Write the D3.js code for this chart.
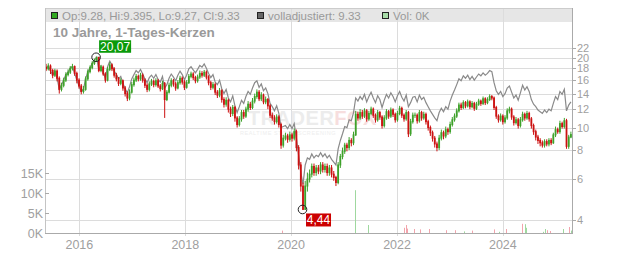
<!DOCTYPE html>
<html><head><meta charset="utf-8">
<script src="https://cdn.jsdelivr.net/npm/d3@7/dist/d3.min.js"></script>
<style>
body{margin:0;background:#fff}
svg{display:block;font-family:"Liberation Sans",Arial,sans-serif}
</style>
</head><body>
<svg id="chart" width="632" height="253"></svg>
<script>
// ---------- DATA (half-monthly candles, May 2015 – Apr 2025) ----------
const firstOpen = 18.2;
const closeVals = [
 17.9,18.4,17.6,16.8,17.5,16.3,14.6,15.2,16.0,16.9,17.3,18.0,18.3,17.1,16.0,15.1,14.3,14.6,16.2,17.4,18.1,18.9,19.5,20.07,
 17.6,18.2,17.0,16.0,17.8,18.6,17.9,16.8,16.2,15.5,15.9,14.8,14.0,13.4,14.2,15.3,16.0,16.6,16.2,16.8,16.0,15.2,14.6,15.4,
 15.8,15.3,15.9,15.1,14.7,15.5,13.2,14.2,15.2,15.9,15.4,14.8,15.6,16.3,15.7,14.9,15.6,16.6,17.0,16.4,15.9,16.5,17.1,16.8,
 17.3,16.5,15.6,14.9,15.3,14.2,13.8,14.4,13.2,12.6,13.1,12.0,11.5,12.2,11.0,10.3,10.9,11.6,11.2,12.0,12.6,12.2,13.0,13.6,
 14.2,13.3,13.8,12.9,13.2,12.4,11.3,11.0,10.6,11.1,10.3,8.4,9.0,9.2,8.9,9.3,9.0,9.6,8.2,6.9,5.6,4.44,5.6,6.0,
 6.3,6.8,6.4,6.7,6.5,6.9,6.6,6.8,6.4,6.7,6.3,6.1,5.8,6.9,7.5,7.9,8.4,8.2,8.8,8.6,9.3,11.4,11.0,11.6,
 11.2,11.8,10.9,11.5,12.0,11.3,10.8,11.6,11.1,10.2,11.0,11.7,11.2,11.9,11.4,10.8,11.5,12.1,11.3,10.9,11.6,9.4,10.6,11.3,
 11.3,10.7,11.6,11.0,11.4,10.6,10.0,9.5,9.0,8.5,8.2,9.0,9.5,9.2,9.8,9.6,10.3,10.8,11.2,11.8,12.5,12.2,12.8,12.4,
 12.9,12.3,12.7,12.1,12.6,13.0,12.7,13.3,12.8,13.2,13.6,13.4,12.2,11.2,10.8,11.2,10.6,11.0,11.8,12.0,11.1,10.5,10.8,10.2,
 10.8,11.4,11.0,11.5,10.9,10.2,9.6,9.1,8.8,8.6,8.4,8.7,8.5,8.8,8.6,9.3,9.8,9.6,10.4,10.1,10.7,8.3,9.1,9.33
];
const highVals = [
 18.8,18.9,18.7,17.9,17.9,17.8,16.6,15.6,16.4,17.3,17.8,18.4,18.8,18.5,17.4,16.3,15.4,15.1,16.6,17.8,18.5,19.3,19.8,20.07,
 20.07,18.6,18.5,17.3,18.2,19.1,18.9,18.2,17.2,16.5,16.3,16.1,15.1,14.3,14.6,15.7,16.4,17.0,16.9,17.2,17.1,16.3,15.5,15.8,
 16.2,16.1,16.3,16.2,15.4,15.9,15.7,14.5,15.6,16.3,16.2,15.7,16.0,16.7,16.6,16.0,16.0,17.0,17.4,17.3,16.7,16.9,17.6,17.5,
 17.7,17.6,16.8,15.9,15.7,15.6,14.5,14.8,14.6,13.5,13.5,13.3,12.3,12.5,12.4,11.2,11.2,11.9,11.9,12.3,13.0,12.9,13.4,14.0,
 14.6,14.5,14.2,14.0,13.6,13.4,12.6,11.6,11.3,11.4,11.3,10.5,9.3,9.5,9.4,9.6,9.5,9.9,9.8,8.4,7.1,5.8,5.9,6.4,
 6.6,7.0,7.0,6.9,6.9,7.1,7.1,7.0,7.0,6.9,6.9,6.5,6.2,7.1,7.7,8.2,8.6,8.6,9.1,9.0,9.6,11.8,11.7,12.0,
 11.9,12.1,12.0,11.8,12.3,12.2,11.5,11.9,11.8,11.3,11.3,12.0,11.9,12.2,12.1,11.6,11.8,12.4,12.3,11.5,11.9,11.8,10.9,11.6,
 11.6,11.5,11.9,11.8,11.7,11.6,10.8,10.2,9.7,9.2,8.7,9.3,9.8,9.7,10.1,10.0,10.6,11.1,11.5,12.1,12.8,12.8,13.1,13.0,
 13.2,13.1,13.0,12.9,12.9,13.3,13.2,13.6,13.5,13.5,13.9,13.8,13.6,12.4,11.4,11.5,11.4,11.3,12.1,12.3,12.2,11.3,11.1,11.0,
 11.1,11.7,11.6,11.8,11.7,11.1,10.4,9.8,9.3,9.0,8.8,8.9,8.9,9.0,9.0,9.5,10.1,10.0,10.7,10.6,11.0,10.9,9.3,9.6
];
const lowVals = [
 17.5,17.6,17.0,16.3,16.5,15.8,14.0,14.3,14.9,15.7,16.6,17.0,17.6,16.7,15.5,14.7,13.9,14.0,14.4,15.9,17.1,17.8,18.6,19.2,
 17.3,17.3,16.7,15.6,15.8,17.5,17.5,16.4,15.8,15.1,15.2,14.4,13.6,13.0,13.1,14.0,15.0,15.7,15.8,15.9,15.6,14.8,14.2,14.3,
 15.1,14.9,15.0,14.8,14.3,14.5,11.0,13.0,14.0,14.9,15.0,14.4,14.6,15.3,15.3,14.5,14.7,15.4,16.3,16.0,15.5,15.6,16.2,16.4,
 16.5,16.1,15.2,14.5,14.6,13.8,13.4,13.5,12.8,12.2,12.3,11.6,11.1,11.2,10.6,10.0,10.1,10.6,10.9,11.0,11.7,11.9,12.0,12.7,
 13.3,13.0,13.0,12.6,12.6,12.0,11.0,10.7,10.3,10.4,10.0,8.1,8.2,8.8,8.6,8.7,8.7,8.8,7.9,6.6,5.3,4.44,4.44,5.3,
 5.8,6.1,6.2,6.2,6.3,6.3,6.4,6.4,6.2,6.2,6.1,5.9,5.6,5.7,6.7,7.3,7.7,7.9,8.0,8.3,8.4,9.2,10.7,10.8,
 10.9,11.0,10.6,10.7,11.3,11.0,10.5,10.6,10.8,9.9,10.0,10.8,10.9,11.0,11.1,10.5,10.6,11.3,11.0,10.6,10.7,9.1,9.2,10.4,
 11.0,10.4,10.5,10.7,10.8,10.3,9.7,9.2,8.7,8.2,7.9,8.0,8.8,8.9,9.0,9.3,9.4,10.1,10.6,11.0,11.6,11.9,12.0,12.1,
 12.2,12.0,12.1,11.8,11.9,12.4,12.4,12.5,12.5,12.6,13.0,13.1,11.9,10.9,10.5,10.6,10.3,10.4,10.8,11.5,10.8,10.2,10.3,9.9,
 10.0,10.6,10.7,10.8,10.6,9.9,9.3,8.8,8.5,8.3,8.2,8.2,8.3,8.3,8.4,8.5,9.1,9.4,9.4,9.9,9.9,8.1,8.1,9.0
];
const adjVals = [
 17.9,18.4,17.6,16.8,17.5,16.3,14.6,15.2,16.0,16.9,17.3,18.0,18.3,17.1,16.0,15.1,14.3,14.6,16.2,17.4,18.1,18.9,19.5,20.07,
 17.7,18.4,17.3,16.3,18.3,19.3,18.6,17.5,16.9,16.2,16.6,15.5,14.7,14.1,15.0,16.2,16.9,17.6,17.2,17.8,17.0,16.2,15.6,16.4,
 16.8,16.3,16.9,16.1,15.7,16.6,14.8,15.3,16.3,17.0,16.5,15.9,16.8,17.5,16.9,16.1,16.8,17.9,18.3,17.7,17.2,17.8,18.5,18.2,
 18.8,18.0,17.1,16.4,16.9,15.7,15.3,16.0,14.7,14.0,14.6,13.4,12.9,13.7,12.4,11.6,12.3,13.1,12.7,13.6,14.3,13.9,14.8,15.6,
 15.9,14.9,15.4,14.4,14.8,14.0,12.7,12.3,11.8,12.4,11.5,10.0,10.1,10.2,9.9,10.3,9.9,10.4,9.0,7.6,6.4,5.7,6.9,7.4,
 7.3,7.7,7.4,7.6,7.5,7.8,7.5,7.7,7.4,7.6,7.3,7.1,6.9,8.1,8.8,9.4,10.1,10.0,10.8,10.7,11.6,13.4,13.0,13.6,
 13.2,13.9,12.9,13.6,14.2,13.4,12.8,13.7,13.2,12.2,13.1,13.9,13.4,14.1,13.6,12.9,13.7,14.3,13.5,13.0,13.8,12.3,12.8,13.5,
 13.6,12.9,13.8,13.2,13.5,12.8,12.3,11.8,11.4,11.0,10.7,11.6,12.1,11.7,12.3,12.0,13.0,13.8,14.5,15.3,16.2,15.9,16.7,16.3,
 16.8,16.1,16.6,16.0,16.5,17.0,16.7,17.2,16.8,17.1,17.6,17.4,15.6,14.4,13.9,14.3,13.6,14.0,14.8,15.1,14.2,13.4,13.8,13.1,
 14.1,15.2,14.5,15.0,14.3,13.2,12.6,12.3,11.9,11.7,11.5,11.9,11.6,12.0,11.8,12.7,13.6,13.2,14.3,13.9,14.6,11.8,12.5,12.9
];
const volDates = ["2019-10-30","2021-03-20","2021-06-13","2022-02-20","2022-03-03","2022-03-10","2022-05-01","2022-06-10",
 "2022-08-11","2022-12-06","2023-02-06","2023-04-09","2023-06-03","2023-11-03","2023-12-06","2024-01-26","2024-05-15",
 "2024-05-30","2024-06-10","2024-10-01","2024-10-19","2024-11-03","2024-11-18","2025-02-17","2025-03-29","2025-04-16"];
const volValues = [0.6,10.7,2.0,1.3,2.0,1.1,1.0,0.9,1.0,0.7,0.7,0.4,0.6,0.9,0.3,1.0,2.3,2.2,1.3,0.3,1.0,0.7,0.5,1.0,1.5,0.6]; // thousands
const volUp = [0,1,1,0,0,0,0,0,0,0,0,1,0,0,1,0,0,1,1,1,1,0,0,1,0,1];
const priceTicks = [4,6,8,10,12,14,16,18,20,22];
const volTicks = [0,5,10,15];
const yearTicks = [2016,2018,2020,2022,2024];
const startDate = new Date(2015,4,9), endDate = new Date(2025,3,22);
const titleText = "10 Jahre, 1-Tages-Kerzen";
const legendTexts = ["Op:9.28, Hi:9.395, Lo:9.27, Cl:9.33","volladjustiert: 9.33","Vol: 0K"];
const maxText = "20,07", minText = "4,44";

// ---------- CHART ----------
const svg = d3.select("#chart");
const L = 45, R = 572, T = 8, B = 233;
const GREEN = "#3ea12a", RED = "#cc1111", GRID = "#dcdcdc", AX = "#aaaaaa", TXT = "#a0a0a0";

const n = closeVals.length;
const periodDates = d3.range(n + 1).map(i => new Date(startDate.getTime() + i * (endDate - startDate) / n));
const x = d3.scaleTime().domain([startDate, endDate]).range([L, R]);
const y = d3.scaleLog().domain([4, 22]).range([220, 48]);
const yv = d3.scaleLinear().domain([0, 15]).range([B, 173]);

// legend bar
svg.append("rect").attr("x", L).attr("y", T).attr("width", R - L).attr("height", 14).attr("fill", "#e6e6e6");

// grid
svg.append("g").selectAll("line").data(priceTicks).join("line")
  .attr("x1", L).attr("x2", R).attr("y1", d => Math.round(y(d)) + 0.5).attr("y2", d => Math.round(y(d)) + 0.5)
  .attr("stroke", GRID);
svg.append("g").selectAll("line").data(yearTicks).join("line")
  .attr("x1", d => Math.round(x(new Date(d, 0, 1))) + 0.5).attr("x2", d => Math.round(x(new Date(d, 0, 1))) + 0.5)
  .attr("y1", T).attr("y2", B + 3).attr("stroke", GRID);

// watermark
const wm = svg.append("text").attr("x", 248).attr("y", 125).attr("font-size", 20).attr("font-weight", "bold")
  .attr("letter-spacing", 0.5);
wm.append("tspan").attr("fill", "#ececec").text("TRADER");
wm.append("tspan").attr("fill", "#f7dede").text("FOX");
svg.append("text").attr("x", 240).attr("y", 135).attr("font-size", 5.5).attr("fill", "#eeeeee")
  .attr("letter-spacing", 0.6).text("REALTIME STOCK SCREENING");

// volume
svg.append("g").selectAll("rect").data(volValues).join("rect")
  .attr("x", (d, i) => Math.round(x(new Date(volDates[i])))).attr("width", 1)
  .attr("y", d => yv(d)).attr("height", d => B - yv(d))
  .attr("fill", (d, i) => volUp[i] ? "#9fd89f" : "#f2a4ac");

// adjusted line
const cx = i => (x(periodDates[i]) + x(periodDates[i + 1])) / 2;
svg.append("path").datum(adjVals)
  .attr("d", d3.line().x((d, i) => cx(i)).y(d => y(d)))
  .attr("fill", "none").attr("stroke", "#8a8a8a").attr("stroke-width", 1.2);

// candles (open = previous close)
const opens = closeVals.map((c, i) => i === 0 ? firstOpen : closeVals[i - 1]);
const col = i => closeVals[i] >= opens[i] ? GREEN : RED;
const cg = svg.append("g");
cg.selectAll("line").data(closeVals).join("line")
  .attr("x1", (d, i) => cx(i)).attr("x2", (d, i) => cx(i))
  .attr("y1", (d, i) => y(highVals[i])).attr("y2", (d, i) => y(lowVals[i]))
  .attr("stroke", (d, i) => col(i)).attr("stroke-width", 1);
cg.selectAll("rect").data(closeVals).join("rect")
  .attr("x", (d, i) => x(periodDates[i]) + 0.2)
  .attr("width", (d, i) => x(periodDates[i + 1]) - x(periodDates[i]) - 0.4)
  .attr("y", (d, i) => Math.min(y(d), y(opens[i])) - 0.5)
  .attr("height", (d, i) => Math.abs(y(d) - y(opens[i])) + 1)
  .attr("fill", (d, i) => col(i));

// extremes
const iMax = d3.maxIndex(highVals), iMin = d3.minIndex(lowVals);
const mx = cx(iMax) - 0.5, my = y(highVals[iMax]);
svg.append("circle").attr("cx", mx).attr("cy", my).attr("r", 4.3).attr("fill", "none").attr("stroke", "#222").attr("stroke-width", 1);
svg.append("rect").attr("x", mx + 3).attr("y", my - 17).attr("width", 32).attr("height", 12.5).attr("fill", "#0a9a0a");
svg.append("text").attr("x", mx + 19).attr("y", my - 6.5).attr("text-anchor", "middle").attr("font-size", 12).attr("fill", "#fff").text(maxText);
const nx = cx(iMin) - 0.5, ny = y(lowVals[iMin]);
svg.append("circle").attr("cx", nx).attr("cy", ny).attr("r", 4.3).attr("fill", "none").attr("stroke", "#222").attr("stroke-width", 1);
svg.append("rect").attr("x", nx + 3.5).attr("y", ny + 4).attr("width", 25).attr("height", 13).attr("fill", "#cc0000");
svg.append("text").attr("x", nx + 16).attr("y", ny + 14.5).attr("text-anchor", "middle").attr("font-size", 12).attr("fill", "#fff").text(minText);

// frame / axes
svg.append("line").attr("x1", L).attr("x2", R + 1).attr("y1", T + 0.5).attr("y2", T + 0.5).attr("stroke", "#cccccc");
svg.append("line").attr("x1", L + 0.5).attr("x2", L + 0.5).attr("y1", T).attr("y2", B).attr("stroke", "#c4c4c4");
svg.append("line").attr("x1", R + 0.5).attr("x2", R + 0.5).attr("y1", T).attr("y2", B).attr("stroke", AX);
svg.append("line").attr("x1", L).attr("x2", R + 1).attr("y1", B + 0.5).attr("y2", B + 0.5).attr("stroke", AX);

// right axis
const ra = svg.append("g");
ra.selectAll("line").data(priceTicks).join("line")
  .attr("x1", R).attr("x2", R + 4).attr("y1", d => Math.round(y(d)) + 0.5).attr("y2", d => Math.round(y(d)) + 0.5).attr("stroke", AX);
ra.selectAll("text").data(priceTicks).join("text")
  .attr("x", R + 5).attr("y", d => y(d) + 4).attr("font-size", 11).attr("fill", TXT).text(d => d);

// left volume axis
const la = svg.append("g");
la.selectAll("line").data(volTicks).join("line")
  .attr("x1", L).attr("x2", L + 4).attr("y1", d => Math.round(yv(d)) + 0.5).attr("y2", d => Math.round(yv(d)) + 0.5).attr("stroke", AX);
la.selectAll("text").data(volTicks).join("text")
  .attr("x", L - 2).attr("y", d => yv(d) + 4.5).attr("text-anchor", "end").attr("font-size", 12.5).attr("fill", TXT).text(d => d + "K");

// bottom axis labels
svg.append("g").selectAll("text").data(yearTicks).join("text")
  .attr("x", d => x(new Date(d, 0, 1))).attr("y", 249).attr("text-anchor", "middle")
  .attr("font-size", 12.5).attr("fill", TXT).text(d => d);

// legend
const legColors = ["#33aa22", "#666666", "#a8dca8"];
const legX = [51, 257, 382];
legendTexts.forEach((t, i) => {
  svg.append("rect").attr("x", legX[i] + 0.5).attr("y", 12.5).attr("width", 6).attr("height", 6)
    .attr("fill", legColors[i]).attr("stroke", "#222").attr("stroke-width", 1);
  svg.append("text").attr("x", legX[i] + 11).attr("y", 19.5).attr("font-size", 11.5).attr("fill", "#999").text(t);
});

// title
svg.append("text").attr("x", 53).attr("y", 37).attr("font-size", 13.5).attr("font-weight", "bold").attr("fill", "#9a9a9a").text(titleText);
</script>
</body></html>
